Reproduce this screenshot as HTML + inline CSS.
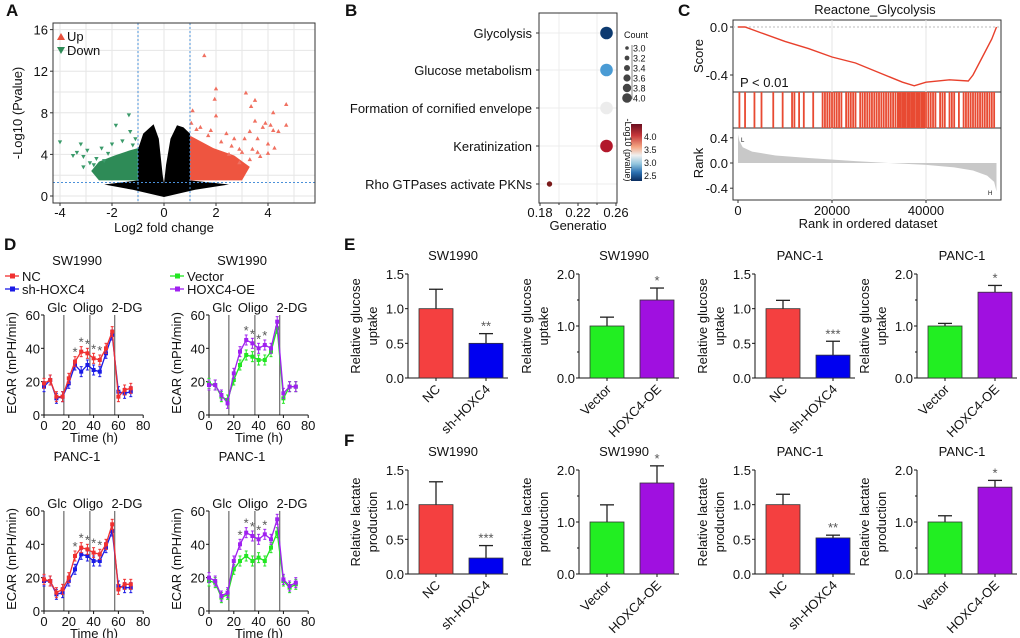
<!DOCTYPE html>
<html><head><meta charset="utf-8"><style>
html,body{margin:0;padding:0;background:#fff}
svg{display:block;font-family:"Liberation Sans",Arial,sans-serif}
</style></head><body>
<svg id="fig" width="1020" height="638" viewBox="0 0 1020 638" xmlns="http://www.w3.org/2000/svg"></svg>
<script>
// ---------- Panel A data ----------
const upX=[1.55,2,1.95,2,3.15,3.5,3.35,4.2,4.7,4.7,3.5,3.9,4.1,4.2,4.4,3.8,3.3,3.1,3.6,4,4,4.25,2.7,2.4,1.8,1.1,1.05,3.4,2.9,3.7,2.2,2.6,3.0,1.4,1.7,3.3,2.9,2.5,3.6,1.25];
const upY=[13.5,10.3,9.3,7.7,9.9,9.2,8.6,8,8.8,6.8,7.2,7,6.8,6.3,6.2,6.6,6.2,5.5,5.5,5,4.1,4.6,5.5,6,6.3,8.2,7,4.5,4.5,3.8,5.2,4.8,4.2,6.6,5.8,3.5,3.2,4.0,4.2,6.4];
const downX=[-4,-3.2,-2.95,-2.15,-1.85,-1.35,-3.35,-3.1,-2.6,-3.1,-1.1,-1.6,-2.4,-2.85,-3.5,-2.0,-1.3,-2.7,-2.3,-1.2];
const downY=[5.2,5,4.4,4.1,6.8,7.8,4.2,3.8,3.6,2.8,5.5,5.3,4.6,3.2,3.9,5.0,6.2,3.0,3.4,4.9];
// ---------- Panel B data ----------
const terms=["Glycolysis","Glucose metabolism","Formation of cornified envelope","Keratinization","Rho GTPases activate PKNs"];
const generatio=[0.25,0.25,0.25,0.25,0.19];
const counts=[4,4,4,4,1];
const termColors=["#0d3a70","#4a9bd4","#ececec","#b2182b","#7a1a1a"];
// ---------- Panel C data ----------
const esRank=[0,1.5,5,10,15,20,25,30,35,37.5,40,45,49,50,52,54,55];
const esScore=[0,0,-0.05,-0.12,-0.18,-0.25,-0.3,-0.38,-0.46,-0.49,-0.46,-0.44,-0.45,-0.4,-0.25,-0.1,0];
const hits=[0.3,1.5,3.5,5,7.5,9.5,11.5,12,13,14,16,18,18.5,19,19.5,20,20.5,21,21.5,22,23,23.5,24,24.5,25,26,26.5,27,27.5,28,28.5,29,29.5,30,30.5,31,31.5,32,32.5,33,33.5,34,34.3,34.6,35,35.3,35.6,36,36.3,36.6,37,37.3,37.6,38,38.3,38.6,39,39.3,39.6,40,40.5,41,41.5,42,43,43.5,44,45,45.5,46,47,48,48.5,49,49.5,50,50.5,51,51.5,52,52.5,53,53.5,54,54.5];
const rankPos=[0,0.3,1,3,8,15,25,32,40,46,50,53,54.5,55];
const rankVal=[0.45,0.35,0.25,0.18,0.12,0.08,0.03,0,-0.03,-0.07,-0.12,-0.2,-0.3,-0.45];
// ---------- Panel D data ----------
const timeH=[0,5,10,15,20,25,30,35,40,45,50,55,60,65,70];
const swNC=[19,21,11,11,22,32,38,37,34,33,40,50,11,15,16];
const swSh=[17,21,10,11,19,30,26,30,27,26,37,48,14,13,14];
const swVec=[19,18,11,9,21,30,36,35,33,33,38,52,10,17,17];
const swOE=[18,18,12,7,25,38,45,43,40,42,40,56,13,17,17];
const pcNC=[19,18,11,13,20,33,38,37,35,34,40,52,13,16,16];
const pcSh=[18,18,10,11,18,25,34,33,30,30,38,48,15,14,14];
const pcVec=[18,17,8,10,25,30,33,30,32,30,38,47,18,14,16];
const pcOE=[20,18,9,11,30,40,47,45,43,46,43,55,19,15,17];
// ---------- Panel E/F data ----------
const eVals=[[1.0,0.5],[1.0,1.5],[1.0,0.33],[1.0,1.65]];
const eErrs=[[0.28,0.14],[0.17,0.23],[0.12,0.2],[0.05,0.13]];
const fVals=[[1.0,0.23],[1.0,1.75],[1.0,0.52],[1.0,1.67]];
const fErrs=[[0.33,0.18],[0.33,0.33],[0.15,0.04],[0.12,0.13]];
const barStars=[["**","*","***","*"],["***","*","**","*"]];

const S=document.getElementById('fig');
const NS='http://www.w3.org/2000/svg';
function mk(tag,a,name){const e=document.createElementNS(NS,tag);for(const k in a)e.setAttribute(k,a[k]);


S.appendChild(e);return e;}
function tx(x,y,s,size,anchor,name,extra){const e=mk('text',Object.assign({x:x,y:y,'font-size':size,'text-anchor':anchor||'start',fill:'#111'},extra||{}),name);e.textContent=s;return e;}
function ln(x1,y1,x2,y2,c,w,name,extra){return mk('line',Object.assign({x1:x1,y1:y1,x2:x2,y2:y2,stroke:c,'stroke-width':w},extra||{}),name);}

// panel letters
[["A",6,16],["B",345,16],["C",678,16],["D",4,250],["E",344,250],["F",344,446]].forEach(p=>{tx(p[1],p[2],p[0],17,'start','panel-label-'+p[0].toLowerCase(),{'font-weight':'bold'});});

// ===== Panel A =====
const xA=v=>164+26*v, yA=v=>196-10.4*v;
mk('rect',{x:53,y:23,width:262,height:180,fill:'#fff',stroke:'none'},'volcano-plot-area');
for(let v=-4;v<=5;v++) ln(xA(v),23,xA(v),203,'#e6e6e6',1,'volcano-grid-x');
for(let v=0;v<=16;v+=2) ln(53,yA(v),315,yA(v),'#e6e6e6',1,'volcano-grid-y');
mk('polygon',{points:[[-2.5,1.5],[-1,1.5],[-1,4.6],[-1.3,4.4],[-1.9,3.9],[-2.5,3.3],[-2.8,2.4]].map(p=>xA(p[0])+','+yA(p[1])).join(' '),fill:'#2e8b57'},'down-dense-region');
mk('polygon',{points:[[1,1.5],[3.0,1.5],[3.3,2.8],[2.7,3.9],[1.9,4.6],[1,5.8]].map(p=>xA(p[0])+','+yA(p[1])).join(' '),fill:'#ee5540'},'up-dense-region');
mk('polygon',{points:[[-2.3,1.1],[-1,1.5],[-1,4.5],[-0.8,6],[-0.4,6.9],[-0.2,5.5],[-0.05,2],[0,1.2],[0.08,3],[0.25,5.5],[0.5,6.8],[0.75,6.6],[1,6],[1,1.5],[2.5,1.1],[1.2,0.6],[0,-0.1],[-1.2,0.6]].map(p=>xA(p[0])+','+yA(p[1])).join(' '),fill:'#000'},'nonsig-dense-region');
upX.forEach((v,i)=>{const x=xA(v),y=yA(upY[i]);mk('polygon',{points:`${x},${y-2.5} ${x-2.2},${y+1.5} ${x+2.2},${y+1.5}`,fill:'#f07060'},'up-gene-point');});
downX.forEach((v,i)=>{const x=xA(v),y=yA(downY[i]);mk('polygon',{points:`${x},${y+2.5} ${x-2.2},${y-1.5} ${x+2.2},${y-1.5}`,fill:'#3a9a6a'},'down-gene-point');});
ln(xA(-1),23,xA(-1),203,'#4a90d9',1,'fc-threshold-neg',{'stroke-dasharray':'2,2'});
ln(xA(1),23,xA(1),203,'#4a90d9',1,'fc-threshold-pos',{'stroke-dasharray':'2,2'});
ln(53,yA(1.3),315,yA(1.3),'#4a90d9',1,'p-threshold',{'stroke-dasharray':'2,2'});
mk('rect',{x:53,y:23,width:262,height:180,fill:'none',stroke:'#333','stroke-width':1},'volcano-frame');
[-4,-2,0,2,4].forEach(v=>{ln(xA(v),203,xA(v),206,'#333',1,'x-tick');tx(xA(v),217,String(v),13,'middle','x-tick-label');});
[0,4,8,12,16].forEach(v=>{ln(50,yA(v),53,yA(v),'#333',1,'y-tick');tx(48,yA(v)+5,String(v),13,'end','y-tick-label');});
tx(164,232,"Log2 fold change",13,'middle','x-axis-title');
tx(22,113,"-Log10 (Pvalue)",13,'middle','y-axis-title',{transform:'rotate(-90 22 113)'});
mk('polygon',{points:'61,33 57,40 65,40',fill:'#e8503c'},'legend-up-marker');
tx(67,41,"Up",13,'start','legend-up-label');
mk('polygon',{points:'61,54 57,47 65,47',fill:'#2e8b57'},'legend-down-marker');
tx(67,55,"Down",13,'start','legend-down-label');

// ===== Panel B =====
const xB=v=>540+(v-0.18)*950;
const rowY=[33,70,108,146,184];
terms.forEach((t,i)=>{ln(539,rowY[i],617,rowY[i],'#ececec',1,'row-grid');tx(532,rowY[i]+5,t,13,'end','term-label');ln(536,rowY[i],539,rowY[i],'#333',1,'y-tick');});
[0.2,0.24].forEach(v=>ln(xB(v),13,xB(v),203,'#ececec',1,'col-grid'));
terms.forEach((t,i)=>{mk('circle',{cx:xB(generatio[i]),cy:rowY[i],r:1.5+counts[i]*1.2,fill:termColors[i]},'term-dot');});
mk('rect',{x:539,y:13,width:78,height:190,fill:'none',stroke:'#333'},'dotplot-frame');
[0.18,0.22,0.26].forEach(v=>{ln(xB(v),203,xB(v),206,'#333',1,'x-tick');tx(xB(v),217,v.toFixed(2),13,'middle','x-tick-label');});
[0.2,0.24].forEach(v=>ln(xB(v),203,xB(v),205,'#333',1,'x-minor-tick'));
tx(578,230,"Generatio",13,'middle','x-axis-title');
tx(624,38,"Count",9,'start','size-legend-title');
ln(632,45,632,99,'#666',0.8,'size-legend-axis');
["3.0","3.2","3.4","3.6","3.8","4.0"].forEach((s,i)=>{const y=48+i*10;mk('circle',{cx:627,cy:y,r:1.8+i*0.6,fill:'#444'},'size-legend-dot');tx(633,y+3.5,s,9,'start','size-legend-label');});
const gd=mk('linearGradient',{id:'cbar',x1:0,y1:0,x2:0,y2:1},'colorbar-gradient');
[['0','#6a0d1f'],['0.2','#c5373a'],['0.4','#f4a582'],['0.55','#f0f0f0'],['0.7','#92c5de'],['0.85','#2b6fb0'],['1','#0a2d60']].forEach(s=>{const st=document.createElementNS(NS,'stop');st.setAttribute('offset',s[0]);st.setAttribute('stop-color',s[1]);gd.appendChild(st);});
mk('rect',{x:631,y:124,width:11,height:57,fill:'url(#cbar)'},'colorbar');
["4.0","3.5","3.0","2.5"].forEach((s,i)=>{tx(644,140+i*13,s,9,'start','colorbar-label');});
tx(625,150,"-Log10 (pvalue)",9,'middle','colorbar-title',{transform:'rotate(90 625 150)'});

// ===== Panel C =====
const xC=k=>738+k*4.7;
const yS=v=>27-v*120, yR=v=>163-v*63;
tx(875,14,"Reactone_Glycolysis",13,'middle','gsea-title');
[[20,92],[92,128],[128,200]].forEach((r,i)=>mk('rect',{x:733,y:r[0],width:268,height:r[1]-r[0],fill:'#fff',stroke:'#333'},'gsea-subpanel-'+i));
[20000,40000].forEach(k=>{ln(xC(k/1000),20,xC(k/1000),92,'#e6e6e6',1,'grid');ln(xC(k/1000),128,xC(k/1000),200,'#e6e6e6',1,'grid');});
ln(733,yS(0),1001,yS(0),'#bbb',1,'zero-line',{'stroke-dasharray':'2,2'});
mk('polyline',{points:esRank.map((k,i)=>xC(k)+','+yS(esScore[i])).join(' '),fill:'none',stroke:'#e8402c','stroke-width':1.4},'enrichment-score-line');
hits.forEach(k=>ln(xC(k),92,xC(k),128,'#e84a32',1.8,'hit-bar'));
mk('polygon',{points:[xC(0)+','+yR(0)].concat(rankPos.map((k,i)=>xC(k)+','+yR(rankVal[i]))).concat([xC(55)+','+yR(0)]).join(' '),fill:'#c8c8c8'},'ranked-metric-area');
tx(741,142,"L",6,'start','rank-l-marker');
tx(988,195,"H",6,'start','rank-h-marker');
tx(740,87,"P < 0.01",13,'start','p-value-label');
[[0,"0.0"],[-0.4,"-0.4"]].forEach(t=>{ln(730,yS(t[0]),733,yS(t[0]),'#333',1,'y-tick');tx(728,yS(t[0])+5,t[1],13,'end','score-tick-label');});
[[0.4,"0.4"],[0,"0.0"],[-0.4,"-0.4"]].forEach(t=>{ln(730,yR(t[0]),733,yR(t[0]),'#333',1,'y-tick');tx(728,yR(t[0])+5,t[1],13,'end','rank-tick-label');});
tx(703,56,"Score",13,'middle','score-axis-title',{transform:'rotate(-90 703 56)'});
tx(703,163,"Rank",13,'middle','rank-axis-title',{transform:'rotate(-90 703 163)'});
[0,20000,40000].forEach(k=>{ln(xC(k/1000),200,xC(k/1000),203,'#333',1,'x-tick');tx(xC(k/1000),215,String(k),13,'middle','x-tick-label');});
tx(868,228,"Rank in ordered dataset",13,'middle','x-axis-title');

// ===== Panel D =====
function ecar(x0,y0,title,sA,sB,cA,cB,starsList){
  const X=t=>x0+t*1.24, Y=v=>y0-v*1.667;
  tx(x0+33,y0-150,title,13,'middle','ecar-title');
  [16,37,57].forEach(t=>ln(X(t),Y(60),X(t),y0,'#777',1.3,'injection-line'));
  tx(x0+13,y0-103,"Glc",13,'middle','glc-label');
  tx(x0+44,y0-103,"Oligo",13,'middle','oligo-label');
  tx(x0+83,y0-103,"2-DG",13,'middle','dg-label');
  ln(x0,Y(60),x0,y0,'#111',1,'y-axis');ln(x0,y0,X(80),y0,'#111',1,'x-axis');
  [0,20,40,60].forEach(v=>{ln(x0-3,Y(v),x0,Y(v),'#111',1,'y-tick');tx(x0-4,Y(v)+5,String(v),13,'end','y-tick-label');});
  [0,20,40,60,80].forEach(v=>{ln(X(v),y0,X(v),y0+3,'#111',1,'x-tick');tx(X(v),y0+15,String(v),13,'middle','x-tick-label');});
  tx(x0+50,y0+27,"Time (h)",13,'middle','x-axis-title');
  tx(x0-28,y0-52,"ECAR (mPH/min)",13,'middle','y-axis-title',{transform:`rotate(-90 ${x0-28} ${y0-52})`});
  [[sB,cB],[sA,cA]].forEach(s=>{
    mk('polyline',{points:timeH.map((t,i)=>X(t)+','+Y(s[0][i])).join(' '),fill:'none',stroke:s[1],'stroke-width':1.3},'ecar-line');
    timeH.forEach((t,i)=>{const y=Y(s[0][i]);ln(X(t),y-5,X(t),y+5,s[1],1,'error-bar');ln(X(t)-1.5,y-5,X(t)+1.5,y-5,s[1],1,'error-cap');ln(X(t)-1.5,y+5,X(t)+1.5,y+5,s[1],1,'error-cap');mk('rect',{x:X(t)-2,y:y-2,width:4,height:4,fill:s[1]},'ecar-point');});
  });
  starsList.forEach(t=>{const i=timeH.indexOf(t);tx(X(t),Y(Math.max(sA[i],sB[i]))-5,"*",13,'middle','significance-star',{fill:'#555'});});
}
ecar(44,415,"SW1990",swNC,swSh,'#f03030','#1a1ae6',[25,30,35,40,45]);
ecar(209,415,"SW1990",swOE,swVec,'#a020f0','#22e622',[30,35,40,45]);
ecar(44,611,"PANC-1",pcNC,pcSh,'#f03030','#1a1ae6',[25,30,35,40,45]);
ecar(209,611,"PANC-1",pcOE,pcVec,'#a020f0','#22e622',[25,30,35,40,45]);
function legendRow(x,y,c,label){ln(x,y,x+14,y,c,1.3,'legend-line');mk('rect',{x:x+5,y:y-2.5,width:5,height:5,fill:c},'legend-marker');tx(x+17,y+5,label,13,'start','legend-label');}
legendRow(5,276,'#f03030',"NC");legendRow(5,289,'#1a1ae6',"sh-HOXC4");
legendRow(170,276,'#22e622',"Vector");legendRow(170,289,'#a020f0',"HOXC4-OE");

// ===== Panels E & F =====
const axX=[408,579,755,917];
const titles=["SW1990","SW1990","PANC-1","PANC-1"];
const ymaxs=[1.5,2.0,1.5,2.0];
const barLabels=[["NC","sh-HOXC4"],["Vector","HOXC4-OE"],["NC","sh-HOXC4"],["Vector","HOXC4-OE"]];
const barColors=[["#f44040","#0000f0"],["#22ee22","#a010e0"],["#f44040","#0000f0"],["#22ee22","#a010e0"]];
function barChart(ci,row,vals,errs,stars,yl1,yl2){
  const ax=axX[ci], y0=row===0?378:574, top=y0-104, ymax=ymaxs[ci];
  const Y=v=>y0-v*(y0-top)/ymax;
  tx(ax+45,top-14,titles[ci],13,'middle','bar-chart-title');
  ln(ax,top,ax,y0,'#111',1,'y-axis');ln(ax,y0,ax+100,y0,'#111',1,'x-axis');
  const ticks=ymax===1.5?[0,0.5,1.0,1.5]:[0,1.0,2.0];
  ticks.forEach(v=>{ln(ax-3,Y(v),ax,Y(v),'#111',1,'y-tick');tx(ax-4,Y(v)+5,v.toFixed(1),13,'end','y-tick-label');});
  if(ymax===2.0)[0.5,1.5].forEach(v=>ln(ax-2,Y(v),ax,Y(v),'#111',1,'y-minor-tick'));
  tx(ax-48,(top+y0)/2,yl1,13,'middle','y-axis-title',{transform:`rotate(-90 ${ax-48} ${(top+y0)/2})`});
  tx(ax-31,(top+y0)/2,yl2,13,'middle','y-axis-title',{transform:`rotate(-90 ${ax-31} ${(top+y0)/2})`});
  vals.forEach((v,i)=>{
    const bx=ax+11+i*50, cx=bx+17;
    ln(cx,Y(v),cx,Y(v+errs[i]),'#222',1.3,'error-bar');ln(cx-7,Y(v+errs[i]),cx+7,Y(v+errs[i]),'#222',1.3,'error-cap');
    mk('rect',{x:bx,y:Y(v),width:34,height:y0-Y(v),fill:barColors[ci][i],stroke:'#333','stroke-width':0.8},'bar-'+barLabels[ci][i].toLowerCase());
    ln(cx,y0,cx,y0+3,'#111',1,'x-tick');
    tx(cx+5,y0+12,barLabels[ci][i],13,'end','x-tick-label',{transform:`rotate(-45 ${cx+5} ${y0+12})`});
  });
  tx(ax+78,Y(vals[1]+errs[1])-3,stars[ci],13,'middle','significance-star',{fill:'#555'});
}
for(let c=0;c<4;c++){barChart(c,0,eVals[c],eErrs[c],barStars[0],"Relative glucose","uptake");}
for(let c=0;c<4;c++){barChart(c,1,fVals[c],fErrs[c],barStars[1],"Relative lactate","production");}
</script>
</body></html>
